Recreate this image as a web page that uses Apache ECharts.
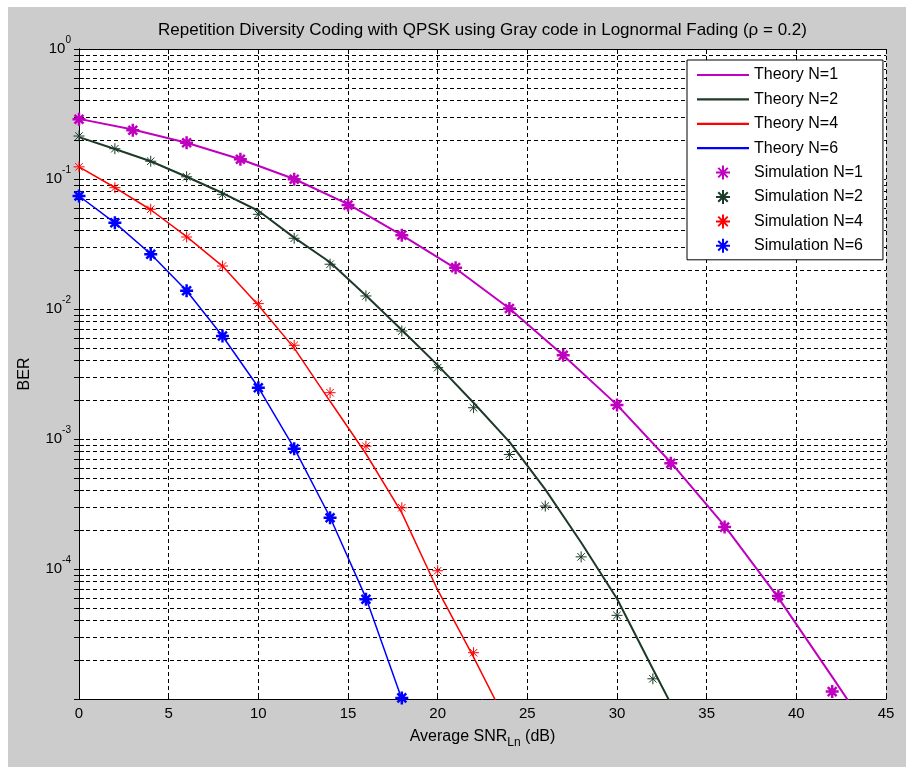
<!DOCTYPE html>
<html><head><meta charset="utf-8">
<script src="https://cdn.jsdelivr.net/npm/echarts@6/dist/echarts.min.js"></script>
<style>
html,body{margin:0;padding:0;background:#fff;width:906px;height:767px;overflow:hidden}
#c{position:absolute;left:8px;top:7px;width:898px;height:760px;background:#cccccc}
</style></head><body><div id="c"></div>
<script>
// ---- data ----
const snrTheory1 = [0,3,6,9,12,15,18,21,24,27,30,33,36,39,42,45];
const berTheory1 = [0.29,0.24,0.19,0.142,0.1,0.064,0.037,0.0205,0.0101,0.0044,0.00183,6.6e-4,2.15e-4,6.0e-5,1.48e-5,3.6e-6];
const snrTheory2 = [0,2,4,6,8,10,12,14,16,18,20,22,24,26,28,30,32,34];
const berTheory2 = [0.21,0.17,0.137,0.104,0.078,0.057,0.0354,0.0229,0.0127,0.0069,0.0037,0.0019,9.5e-4,4.1e-4,1.6e-4,5.9e-5,1.7e-5,5e-6];
const snrTheory4 = [0,2,4,6,8,10,12,14,16,18,20,22,24];
const berTheory4 = [0.124,0.086,0.058,0.036,0.0214,0.0107,0.005,0.00195,7.7e-4,2.7e-4,6.9e-5,2.1e-5,6e-6];
const snrTheory6 = [0,2,4,6,8,10,12,14,16,18];
const berTheory6 = [0.074,0.046,0.0265,0.0138,0.0062,0.0025,8.5e-4,2.5e-4,6.0e-5,1.0e-5];

const snrSim1 = [0,3,6,9,12,15,18,21,24,27,30,33,36,39,42];
const berSim1 = [0.288,0.237,0.19,0.142,0.0995,0.063,0.037,0.0208,0.0101,0.0044,0.00183,6.5e-4,2.1e-4,6.2e-5,1.14e-5];
const snrSim2 = [0,2,4,6,8,10,12,14,16,18,20,22,24,26,28,30,32];
const berSim2 = [0.214,0.171,0.137,0.104,0.0762,0.0535,0.035,0.0221,0.0126,0.00677,0.00354,0.00174,7.6e-4,3.05e-4,1.24e-4,4.4e-5,1.43e-5];
const snrSim4 = [0,2,4,6,8,10,12,14,16,18,20,22];
const berSim4 = [0.124,0.0857,0.0585,0.0358,0.0214,0.011,0.00526,0.00227,8.8e-4,2.96e-4,9.7e-5,2.27e-5];
const snrSim6 = [0,2,4,6,8,10,12,14,16,18];
const berSim6 = [0.074,0.0461,0.0264,0.0138,0.0062,0.00248,8.4e-4,2.48e-4,5.85e-5,1.02e-5];

const xTicks = [0,5,10,15,20,25,30,35,40,45];
const yMajorTicks = [1e-5,1e-4,1e-3,1e-2,1e-1,1];
const yLabelTicks = [1e-4,1e-3,1e-2,1e-1,1];
const yMinorMult = [2,3,4,5,6,7,8,9];

const titleText = 'Repetition Diversity Coding with QPSK using Gray code in Lognormal Fading (\u03c1 = 0.2)';
const names = ['Theory N=1','Theory N=2','Theory N=4','Theory N=6','Simulation N=1','Simulation N=2','Simulation N=4','Simulation N=6'];
const colors = ['#bf00bf','#1c3a28','#ff0000','#0000ff'];

// ---- build ----
const zip = (xs, ys) => xs.map((x, i) => [x, ys[i]]);
const yAllTicks = [];
yMajorTicks.forEach((m, i) => {
  yAllTicks.push(m);
  if (i < yMajorTicks.length - 1) yMinorMult.forEach(k => yAllTicks.push(+(k * m).toPrecision(3)));
});
const FONT = 'Liberation Sans';
const asterisk = 'path://M5,0L5,10M0,5L10,5M1.6,1.6L8.4,8.4M1.6,8.4L8.4,1.6';
const lineIcon = 'path://M0,0H52V2.2H0Z';

function lineSeries(name, xs, ys, color, w) {
  return { name, type: 'line', data: zip(xs, ys), symbol: 'none', clip: true,
    lineStyle: { color, width: w }, itemStyle: { color }, z: 3, animation: false };
}
function simSeries(name, xs, ys, color, bw, size) {
  return { name, type: 'scatter', data: zip(xs, ys), symbol: asterisk, symbolSize: size,
    clip: false, z: 4, animation: false,
    itemStyle: { color: color, borderColor: color, borderWidth: bw, opacity: 1 } };
}

const yLabelFmt = v => '{b|10}{s|' + Math.round(Math.log10(v)) + '}';

const yAxisBase = {
  type: 'log', logBase: 10, min: 1e-5, max: 1,
  axisLine: { show: true, lineStyle: { color: '#000', width: 1 } },
  axisTick: { show: true, inside: true, length: 5, customValues: yAllTicks, lineStyle: { color: '#000', width: 1 } },
  minorTick: { show: false }, minorSplitLine: { show: false }
};

const option = {
  animation: false,
  textStyle: { fontFamily: FONT },
  graphic: [{
    type: 'text', x: 474.5, y: 23, z: 10,
    style: { text: titleText, fontFamily: FONT, fontSize: 17, fill: '#000', align: 'center', verticalAlign: 'middle' }
  }],
  grid: { left: 71, right: 20, top: 42, bottom: 68, show: true, backgroundColor: '#fff', borderWidth: 0 },
  legend: {
    orient: 'vertical', left: 679, top: 53,
    data: names.map((n, i) => i < 4 ? { name: n, icon: lineIcon } : { name: n }),
    backgroundColor: '#fff', borderColor: '#000', borderWidth: 1, borderRadius: 0,
    padding: [7, 20, 6, 10], itemWidth: 52, itemHeight: 14, itemGap: 8.4,
    textStyle: { fontFamily: FONT, fontSize: 16, color: '#000' }
  },
  xAxis: [{
    type: 'value', min: 0, max: 45, interval: 5, position: 'bottom',
    name: '{a|Average SNR}{sub|Ln}{a| (dB)}', nameLocation: 'middle', nameGap: 26,
    nameTextStyle: { rich: { a: { fontFamily: FONT, fontSize: 16, color: '#000' }, sub: { fontFamily: FONT, fontSize: 12, color: '#000', padding: [12, 0, 0, 0] } } },
    axisLine: { show: true, onZero: false, lineStyle: { color: '#000', width: 1 } },
    axisTick: { show: true, inside: true, length: 5, lineStyle: { color: '#000' } },
    axisLabel: { fontFamily: FONT, fontSize: 15, color: '#000', margin: 7, customValues: xTicks },
    splitLine: { show: true, lineStyle: { color: '#000', type: [4, 3], width: 1 } }
  }, {
    type: 'value', min: 0, max: 45, interval: 5, position: 'top',
    axisLine: { show: true, onZero: false, lineStyle: { color: '#000', width: 1 } },
    axisTick: { show: true, inside: true, length: 5, lineStyle: { color: '#000' } },
    axisLabel: { show: false }, splitLine: { show: false }
  }],
  yAxis: [Object.assign({}, yAxisBase, {
    position: 'left',
    name: 'BER', nameLocation: 'middle', nameGap: 46, nameRotate: 90,
    nameTextStyle: { fontFamily: FONT, fontSize: 16, color: '#000' },
    axisLabel: {
      customValues: yLabelTicks, margin: 8, formatter: yLabelFmt,
      rich: {
        b: { fontFamily: FONT, fontSize: 15, color: '#000' },
        s: { fontFamily: FONT, fontSize: 10, color: '#000', padding: [0, 0, 18, 0] }
      }
    },
    splitLine: { show: true, lineStyle: { color: '#000', type: [4, 3], width: 1 } }
  }), Object.assign({}, yAxisBase, {
    position: 'right',
    axisLabel: { show: false }, splitLine: { show: false }
  })],
  series: [
    lineSeries(names[0], snrTheory1, berTheory1, colors[0], 2),
    lineSeries(names[1], snrTheory2, berTheory2, colors[1], 2),
    lineSeries(names[2], snrTheory4, berTheory4, colors[2], 1.5),
    lineSeries(names[3], snrTheory6, berTheory6, colors[3], 1.5),
    simSeries(names[4], snrSim1, berSim1, colors[0], 2.5, 13),
    simSeries(names[5], snrSim2, berSim2, colors[1], 1, 11),
    simSeries(names[6], snrSim4, berSim4, colors[2], 1, 11),
    simSeries(names[7], snrSim6, berSim6, colors[3], 2.5, 13)
  ]
};
const chart = echarts.init(document.getElementById('c'), null, { renderer: 'canvas' });
chart.setOption(option);
</script></body></html>
